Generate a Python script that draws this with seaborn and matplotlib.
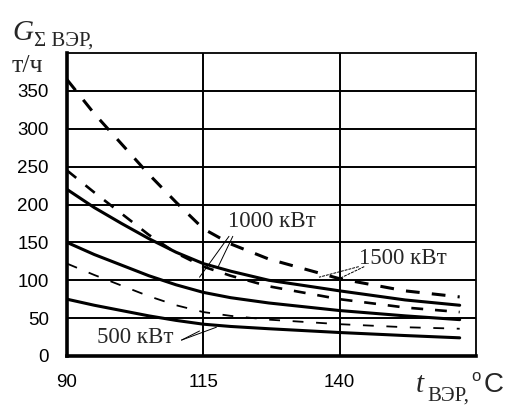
import seaborn as sns
import matplotlib.pyplot as plt
import pandas as pd

# temperature of secondary energy resource, deg C
t_ver = [90, 95, 100, 105, 110, 115, 120, 127, 140, 152, 162]

# solid curves
solid_hi = [220, 196, 175, 155, 137, 122, 112, 100, 86, 74, 67]
solid_mid = [150, 134, 120, 106, 94, 84, 77, 70, 60, 53, 48]
solid_lo = [75, 67, 60, 53, 47, 42, 39, 36, 31, 27, 24]

# dashed curves
dash_hi = [365, 320, 280, 240, 203, 168, 148, 128, 102, 86, 78]
dash_mid = [245, 216, 188, 160, 136, 118, 106, 92, 75, 64, 58]
dash_lo = [122, 107, 93, 79, 67, 58, 53, 48, 42, 38, 36]

x_ticks = [90, 115, 140, 165]
x_ticklabels = ["90", "115", "140", ""]
y_ticks = [0, 50, 100, 150, 200, 250, 300, 350]

sns.set_style("white")
plt.rcParams["font.family"] = ["Liberation Sans", "DejaVu Sans"]

fig = plt.figure(figsize=(5.18, 4.05), dpi=100)
ax = fig.add_axes([0.1293, 0.121, 0.7897, 0.748])

series = {
    "solid_hi": (solid_hi, "-", 2.2),
    "solid_mid": (solid_mid, "-", 2.2),
    "solid_lo": (solid_lo, "-", 2.2),
    "dash_hi": (dash_hi, (0, (4.5, 4.0)), 2.2),
    "dash_mid": (dash_mid, (0, (4.5, 4.5)), 1.9),
    "dash_lo": (dash_lo, (0, (6, 7)), 1.3),
}
for name, (vals, ls, lw) in series.items():
    df = pd.DataFrame({"t": t_ver, "G": vals})
    sns.lineplot(data=df, x="t", y="G", ax=ax, color="black", lw=lw,
                 linestyle=ls, zorder=3)

ax.set_xlim(90, 165)
ax.set_ylim(0, 400)
ax.set_xticks(x_ticks)
ax.set_xticklabels(x_ticklabels)
ax.set_yticks(y_ticks)
ax.set_xlabel("")
ax.set_ylabel("")
ax.grid(False)
for y in y_ticks[1:]:
    ax.axhline(y, color="black", lw=1.4, zorder=1)
for x in [115, 140]:
    ax.axvline(x, color="black", lw=1.4, zorder=1)

for side in ["top", "right"]:
    ax.spines[side].set_linewidth(1.3)
    ax.spines[side].set_color("black")
for side in ["left", "bottom"]:
    ax.spines[side].set_linewidth(2.6)
    ax.spines[side].set_color("black")

ax.tick_params(axis="both", direction="out", length=4, width=2,
               colors="black", labelsize=13.5)
ax.tick_params(axis="x", pad=9)
ax.tick_params(axis="y", pad=9)

serif = ["Liberation Serif", "DejaVu Serif"]

# curve labels with pointer lines
ax.text(127.6, 178, "1000 кВт", family=serif, fontsize=16.5,
        ha="center", va="center")
ax.plot([119.7, 114.3], [158, 104], color="black", lw=0.7)
ax.plot([120.4, 117.6], [158, 116], color="black", lw=0.7)

ax.text(151.5, 129, "1500 кВт", family=serif, fontsize=16.5,
        ha="center", va="center")
ax.plot([143.5, 136.2], [118, 104], color="black", lw=0.7, ls=(0, (3, 1)))
ax.plot([144.5, 139.3], [118, 100], color="black", lw=0.7, ls=(0, (3, 1)))

ax.text(102.6, 25, "500 кВт", family=serif, fontsize=16.5,
        ha="center", va="center")
ax.plot([111, 114.3], [21, 33], color="black", lw=0.7)
ax.plot([111, 117.4], [21, 38], color="black", lw=0.7)

# axis titles
fig.text(12 / 518, 1 - 40 / 405, "G", family=serif, style="italic",
         fontsize=21)
fig.text(34 / 518, 1 - 46 / 405, "Σ ВЭР,", family=serif, fontsize=15)
fig.text(12 / 518, 1 - 72 / 405, "т/ч", family=serif, fontsize=18.5)

fig.text(416 / 518, 1 - 392 / 405, "t", family=serif, style="italic",
         fontsize=21)
fig.text(427 / 518, 1 - 401 / 405, "ВЭР,", family=serif, fontsize=15)
fig.text(471 / 518, 1 - 381 / 405, "o", fontsize=12)
fig.text(484 / 518, 1 - 392 / 405, "C", fontsize=20)

fig.savefig("out.png", dpi=100)
